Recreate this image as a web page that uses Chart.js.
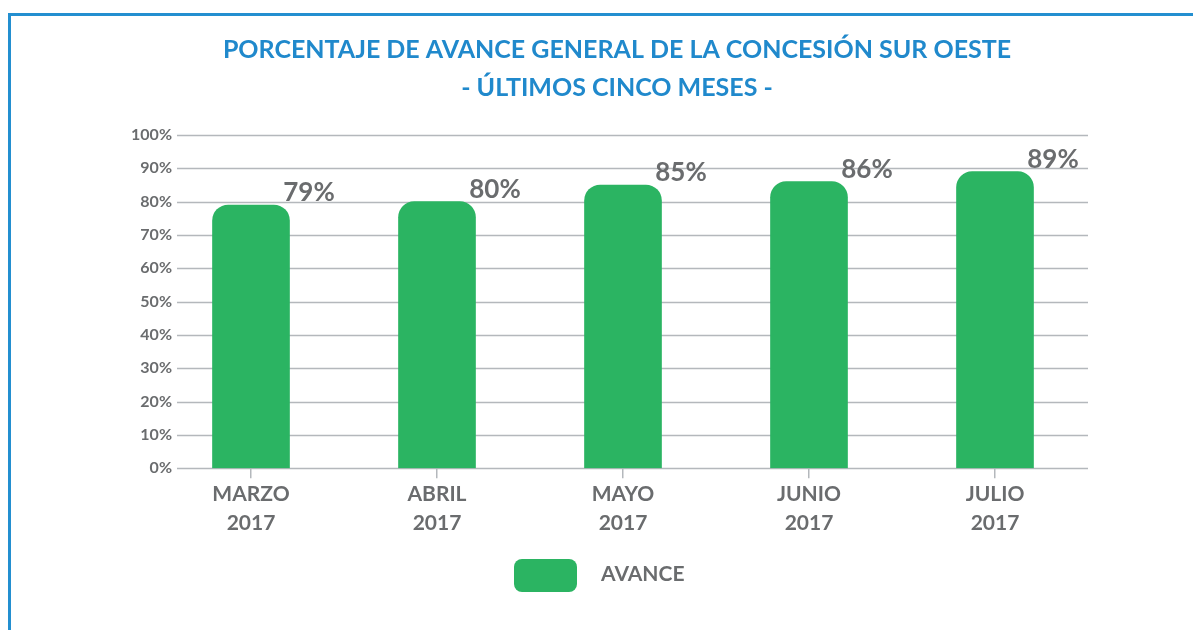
<!DOCTYPE html>
<html>
<head>
<meta charset="utf-8">
<script src="https://cdn.jsdelivr.net/npm/chart.js@4.4.1/dist/chart.umd.min.js"></script>
<style>
  html, body { margin: 0; padding: 0; background: #fff; }
  #wrap { position: relative; width: 1193px; height: 630px; overflow: hidden; }
  #marco { position: absolute; left: 8px; top: 13px; width: 1300px; height: 700px;
           border-left: 3px solid #238fd0; border-top: 3px solid #238fd0; }
  #grafico { position: absolute; left: 0; top: 0; }
</style>
</head>
<body>
<div id="wrap">
  <div id="marco"></div>
  <canvas id="grafico" width="1193" height="630"></canvas>
</div>
<script>
// datos del grafico
var meses = ['MARZO', 'ABRIL', 'MAYO', 'JUNIO', 'JULIO']
var anios = ['2017', '2017', '2017', '2017', '2017']
var avance = [79, 80, 85, 86, 89]
var titulo = ['PORCENTAJE DE AVANCE GENERAL DE LA CONCESIÓN SUR OESTE', '- ÚLTIMOS CINCO MESES -']
var ticksY = [0, 10, 20, 30, 40, 50, 60, 70, 80, 90, 100]

var gris = '#6a6c6e'
var verde = '#2bb462'
var fuente = 'Lato'

var etiquetas = meses.map(function (m, i) { return [m, anios[i]] })

// lineas horizontales y etiquetas del eje Y (las lineas empiezan a la derecha del texto)
const lineasY = {
    id: 'lineasY',
    beforeDatasetsDraw: function (chart) {
        var ctx = chart.ctx, y = chart.scales.y, area = chart.chartArea
        ctx.save()
        ctx.strokeStyle = '#b4b8bc'
        ctx.lineWidth = 1.5
        ctx.fillStyle = gris
        ctx.font = 'bold 16px ' + fuente
        ctx.textAlign = 'right'
        ctx.textBaseline = 'middle'
        ticksY.forEach(function (v) {
            var py = Math.round(y.getPixelForValue(v)) + 0.5
            ctx.beginPath()
            ctx.moveTo(area.left + 19, py)
            ctx.lineTo(area.right, py)
            ctx.stroke()
            ctx.fillText(v + '%', area.left + 14, py - 1)
        })
        ctx.restore()
    }
}

// porcentaje arriba a la derecha de cada barra
const valores = {
    id: 'valores',
    afterDatasetsDraw: function (chart) {
        var ctx = chart.ctx
        var meta = chart.getDatasetMeta(0)
        ctx.save()
        ctx.fillStyle = gris
        ctx.font = 'bold 26px ' + fuente
        ctx.textAlign = 'center'
        ctx.textBaseline = 'middle'
        meta.data.forEach(function (bar, i) {
            ctx.fillText(avance[i] + '%', bar.x + 58, bar.y - 12)
        })
        ctx.restore()
    }
}

// leyenda debajo del grafico
const leyenda = {
    id: 'leyenda',
    afterDraw: function (chart) {
        var ctx = chart.ctx
        var ds = chart.data.datasets[0]
        ctx.save()
        ctx.fillStyle = ds.backgroundColor
        ctx.beginPath()
        ctx.roundRect(514, 559, 63, 33, 8)
        ctx.fill()
        ctx.fillStyle = gris
        ctx.font = 'bold 21px ' + fuente
        ctx.textAlign = 'left'
        ctx.textBaseline = 'middle'
        ctx.fillText(ds.label, 601, 574)
        ctx.restore()
    }
}

var myChart = new Chart(document.getElementById('grafico'), {
    type: 'bar',
    data: {
        labels: etiquetas,
        datasets: [{
            label: 'AVANCE',
            data: avance,
            backgroundColor: verde,
            borderWidth: 0,
            barThickness: 77,
            borderRadius: { topLeft: 16, topRight: 16, bottomLeft: 0, bottomRight: 0 },
            borderSkipped: 'bottom'
        }]
    },
    plugins: [lineasY, valores, leyenda],
    options: {
        responsive: false,
        animation: false,
        layout: { padding: { left: 146, right: 105, top: 0, bottom: 91 } },
        scales: {
            x: {
                offset: true,
                border: { display: false },
                grid: { display: true, drawOnChartArea: false, drawTicks: true, tickLength: 10, offset: false, color: '#b4b8bc', lineWidth: 1.5 },
                ticks: { color: gris, padding: 1, font: { family: fuente, size: 21, weight: 'bold', lineHeight: 1.4 } }
            },
            y: {
                min: 0,
                max: 100,
                border: { display: false },
                grid: { display: false },
                afterFit: function (scale) { scale.width = 12 },
                ticks: { display: false, stepSize: 10 }
            }
        },
        plugins: {
            title: {
                display: true,
                text: titulo,
                color: '#2089cc',
                font: { family: fuente, size: 25, weight: 'bold', lineHeight: 1.52 },
                padding: { top: 31, bottom: 28 }
            },
            legend: { display: false },
            tooltip: { enabled: false }
        }
    }
})
</script>
</body>
</html>
